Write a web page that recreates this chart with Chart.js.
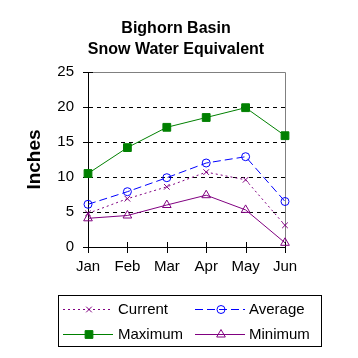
<!DOCTYPE html>
<html><head><meta charset="utf-8">
<script src="https://cdn.jsdelivr.net/npm/chart.js@4/dist/chart.umd.min.js"></script>
<style>html,body{margin:0;padding:0;background:#fff;}#wrap{width:358px;height:358px;position:relative}</style>
</head><body><div id="wrap"><canvas id="c" width="358" height="358"></canvas></div>
<script>
const months = ['Jan', 'Feb', 'Mar', 'Apr', 'May', 'Jun'];
const current = [4.8, 6.9, 8.6, 10.7, 9.6, 3.1];
const average = [6.1, 7.9, 9.9, 12.0, 12.9, 6.5];
const maximum = [10.5, 14.2, 17.1, 18.5, 19.9, 15.9];
const minimum = [4.1, 4.5, 6.0, 7.4, 5.3, 0.6];
const yTickValues = [0, 5, 10, 15, 20, 25];
const titleLines = ['Bighorn Basin', 'Snow Water Equivalent'];
const yAxisTitle = 'Inches';

const FONT = "'Liberation Sans', Arial, sans-serif";
const PURPLE = '#800080', BLUE = '#0000FF', GREEN = '#008000';

const extras = {
  id: 'extras',
  beforeDatasetsDraw(chart) {
    const ctx = chart.ctx, a = chart.chartArea;
    const xs = chart.scales.x, ys = chart.scales.y;
    ctx.save();
    ctx.lineWidth = 1;
    ctx.strokeStyle = '#808080';
    ctx.beginPath();
    ctx.moveTo(Math.round(a.left), Math.round(a.top) + 0.5);
    ctx.lineTo(Math.round(a.right) + 0.5, Math.round(a.top) + 0.5);
    ctx.lineTo(Math.round(a.right) + 0.5, Math.round(a.bottom));
    ctx.stroke();
    ctx.strokeStyle = '#000';
    ctx.beginPath();
    yTickValues.forEach(v => {
      const y = Math.round(ys.getPixelForValue(v)) + 0.5;
      ctx.moveTo(Math.round(a.left) - 5, y);
      ctx.lineTo(Math.round(a.left) + 5, y);
    });
    months.forEach((m, i) => {
      const x = Math.round(xs.getPixelForValue(i)) + 0.5;
      ctx.moveTo(x, Math.round(a.bottom) - 5);
      ctx.lineTo(x, Math.round(a.bottom) + 6);
    });
    ctx.stroke();
    ctx.restore();
  },
  afterDraw(chart) {
    const ctx = chart.ctx;
    ctx.save();
    ctx.lineWidth = 1;
    ctx.strokeStyle = '#000';
    ctx.strokeRect(58.5, 295.5, 263, 51);
    const slots = [[63, 113, 118, 309], [195, 245, 249, 309], [63, 113, 118, 334], [195, 245, 249, 334]];
    chart.data.datasets.forEach((ds, i) => {
      const [x0, x1, tx, y] = slots[i];
      ctx.save();
      ctx.strokeStyle = ds.borderColor;
      ctx.lineWidth = ds.borderWidth;
      ctx.setLineDash(ds.borderDash || []);
      ctx.beginPath();
      ctx.moveTo(x0, y + 0.5);
      ctx.lineTo(x1, y + 0.5);
      ctx.stroke();
      ctx.setLineDash([]);
      ctx.fillStyle = ds.pointBackgroundColor;
      ctx.strokeStyle = ds.pointBorderColor;
      ctx.lineWidth = 1;
      Chart.helpers.drawPoint(ctx, {pointStyle: ds.pointStyle, radius: ds.pointRadius, rotation: 0, borderWidth: 1}, (x0 + x1) / 2 + 1, y + 0.5);
      ctx.restore();
      ctx.fillStyle = '#000';
      ctx.font = '15px ' + FONT;
      ctx.textAlign = 'left';
      ctx.textBaseline = 'middle';
      ctx.fillText(ds.label, tx, y + 1);
    });
    ctx.restore();
  }
};

new Chart(document.getElementById('c'), {
  type: 'line',
  data: {
    labels: months,
    datasets: [
      {label: 'Current', data: current, borderColor: PURPLE, borderWidth: 1, borderDash: [2, 3],
       pointStyle: 'crossRot', pointRadius: 4, pointBorderColor: PURPLE, pointBackgroundColor: 'rgba(0,0,0,0)', pointBorderWidth: 1, fill: false, tension: 0},
      {label: 'Average', data: average, borderColor: BLUE, borderWidth: 1, borderDash: [8, 4],
       pointStyle: 'circle', pointRadius: 4, pointBorderColor: BLUE, pointBackgroundColor: 'rgba(0,0,0,0)', pointBorderWidth: 1, fill: false, tension: 0},
      {label: 'Maximum', data: maximum, borderColor: GREEN, borderWidth: 1,
       pointStyle: 'rect', pointRadius: 5.5, pointBorderColor: GREEN, pointBackgroundColor: GREEN, pointBorderWidth: 1, fill: false, tension: 0},
      {label: 'Minimum', data: minimum, borderColor: PURPLE, borderWidth: 1,
       pointStyle: 'triangle', pointRadius: 5, pointBorderColor: PURPLE, pointBackgroundColor: 'rgba(0,0,0,0)', pointBorderWidth: 1, fill: false, tension: 0}
    ]
  },
  options: {
    responsive: false,
    animation: false,
    devicePixelRatio: 1,
    layout: {padding: {left: 0, right: 6, top: 0, bottom: 71}},
    elements: {point: {hoverRadius: 5}},
    scales: {
      x: {
        type: 'category', offset: false,
        grid: {display: true, drawOnChartArea: false, drawTicks: false},
        border: {display: true, color: '#000', width: 1},
        ticks: {color: '#000', font: {family: FONT, size: 15}, padding: 11, maxRotation: 0, autoSkip: false},
        afterFit(s) { s.height = 40; }
      },
      y: {
        min: 0, max: 25,
        afterBuildTicks(s) { s.ticks = yTickValues.map(v => ({value: v})); },
        grid: {
          drawTicks: false,
          color: c => (c.tick && (c.tick.value === 0 || c.tick.value === 25)) ? 'rgba(0,0,0,0)' : '#000',
          lineWidth: 1
        },
        border: {display: true, color: '#000', width: 1, dash: [4, 4]},
        ticks: {color: '#000', font: {family: FONT, size: 15}, padding: 14},
        title: {display: true, text: yAxisTitle, color: '#000', font: {family: FONT, size: 19, weight: 'bold'}, padding: {top: 23, bottom: 0}},
        afterFit(s) { s.width = 88; }
      },
      yR: {
        position: 'right', display: true,
        grid: {display: false}, border: {display: false},
        ticks: {display: false},
        afterFit(s) { s.width = 67; }
      }
    },
    plugins: {
      legend: {display: false},
      tooltip: {enabled: false},
      title: {display: true, text: titleLines, color: '#000', font: {family: FONT, size: 16, weight: 'bold', lineHeight: 1.3125}, padding: {top: 18.5, bottom: 11.5}}
    }
  },
  plugins: [extras]
});
</script>
</body></html>
